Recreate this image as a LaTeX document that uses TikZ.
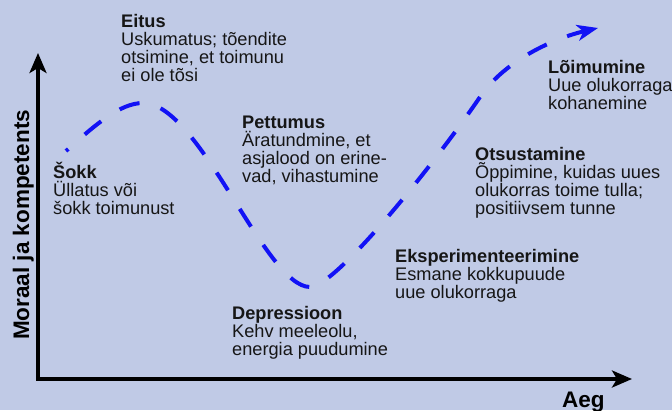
\documentclass[tikz,border=0pt]{standalone}
\usepackage{fontspec}
\setmainfont{Liberation Sans}
\usetikzlibrary{arrows.meta}
\definecolor{bgpanel}{RGB}{192,202,230}
\definecolor{curveblue}{RGB}{18,18,245}
\definecolor{inktext}{RGB}{22,22,22}
\newcommand{\stagefont}{\fontsize{18.2}{18}\selectfont\lineskiplimit=-30pt\relax}

\begin{document}
\begin{tikzpicture}[x=1pt,y=-1pt]
	%defines
	\tikzstyle{axis} = [line width=3.5pt, draw=black, {Stealth[length=20pt,width=17pt,inset=5pt]}-{Stealth[length=20pt,width=17pt,inset=5pt]}]
	\tikzstyle{axislabel} = [inner sep=0pt, text=black, font=\fontsize{22.5}{24}\selectfont\bfseries]
	\tikzstyle{stage} = [anchor=base west, align=left, inner sep=0pt, text=inktext, font=\stagefont]
	\tikzstyle{curve} = [line width=4pt, draw=curveblue, dash pattern=on 21pt off 22pt, dash phase=18pt, -{Stealth[length=21pt,width=16pt,inset=6pt]}]
	%background
	\useasboundingbox (0,0) rectangle (672,410);
	\fill[bgpanel] (0,0) rectangle (672,410);
	%axes
	\coordinate (origin) at (38,379);
	\coordinate (ytip) at (38,53);
	\coordinate (xtip) at (632,379);
	\draw [axis] (ytip) -- (origin) -- (xtip);
	\node (ylabel) [axislabel, rotate=90, anchor=base west] at (29,340) {Moraal ja kompetents};
	\node (xlabel) [axislabel, anchor=base west] at (562,407) {Aeg};
	%curve
	\coordinate (start) at (66,151);
	\coordinate (peak) at (143,103);
	\coordinate (trough) at (310,287);
	\coordinate (climb) at (480,97);
	\coordinate (finish) at (598,28);
	\draw [curve] (start) .. controls (95,125) and (120,103) .. (peak)
		.. controls (200,103) and (265,287) .. (trough)
		.. controls (335,287) and (430,170) .. (climb)
		.. controls (505,60) and (555,38) .. (finish);
	%stages (placed by the baseline of their last line)
	\node (eitus) [stage] at (121,81) {\textbf{Eitus}\\Uskumatus; tõendite\\otsimine, et toimunu\\ei ole tõsi};
	\node (sokk) [stage] at (53,214) {\textbf{Šokk}\\Üllatus või\\šokk toimunust};
	\node (pettumus) [stage] at (242,182) {\textbf{Pettumus}\\Äratundmine, et\\asjalood on erine-\\vad, vihastumine};
	\node (depressioon) [stage] at (232,355) {\textbf{Depressioon}\\Kehv meeleolu,\\energia puudumine};
	\node (eksperiment) [stage] at (395,298) {\textbf{Eksperimenteerimine}\\Esmane kokkupuude\\uue olukorraga};
	\node (otsustamine) [stage] at (475,214) {\textbf{Otsustamine}\\Õppimine, kuidas uues\\olukorras toime tulla;\\positiivsem tunne};
	\node (loimumine) [stage] at (548,109) {\textbf{Lõimumine}\\Uue olukorraga\\kohanemine};
\end{tikzpicture}
\end{document}
